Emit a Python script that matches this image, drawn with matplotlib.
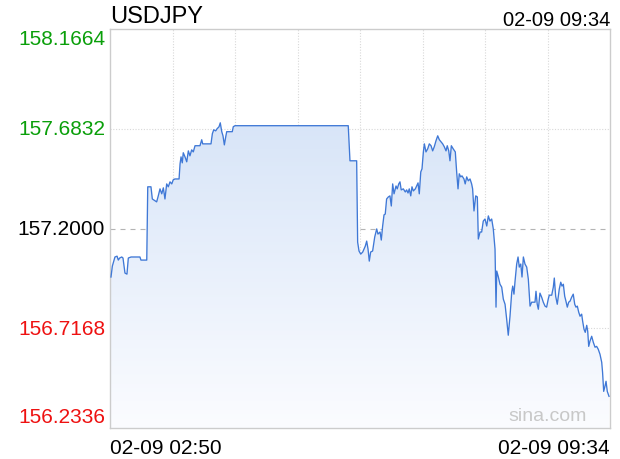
import numpy as np
import matplotlib.pyplot as plt
from matplotlib.colors import LinearSegmentedColormap
from matplotlib.transforms import blended_transform_factory

plt.rcParams["font.family"] = ["Liberation Sans", "DejaVu Sans"]

symbol = "USDJPY"
stamp = "02-09 09:34"
start_label = "02-09 02:50"
end_label = "02-09 09:34"
prev_close = 157.2000
y_ticks = [158.1664, 157.6832, 157.2000, 156.7168, 156.2336]
y_colors = ["#0a9f0a", "#0a9f0a", "#000000", "#ee1111", "#ee1111"]
span_minutes = 404  # 02:50 -> 09:34

# minutes after 02:50
minutes = [
    0.8, 1.9, 4.0, 5.7, 6.7, 7.8, 9.5, 10.5, 12.1, 13.7, 14.8, 17.0, 24.2, 25.0, 29.7,
    30.5, 33.1, 34.2, 36.4, 37.7, 39.0, 40.4, 41.8, 43.1, 44.4, 45.8, 47.1, 48.5, 49.9,
    51.1, 52.5, 55.8, 56.6, 57.4, 58.4, 59.2, 60.6, 62.0, 63.3, 64.6, 66.0, 67.3, 68.7,
    72.7, 74.1, 74.9, 81.6, 82.7, 83.8, 85.4, 86.5, 88.1, 89.1, 90.3, 91.3, 92.4, 93.5,
    94.3, 98.8, 99.6, 101.0, 192.5, 193.9, 199.3, 200.1, 201.2, 202.6, 204.2, 205.2,
    206.3, 207.4, 208.5, 209.5, 210.6, 212.2, 213.9, 215.5, 216.5, 218.2, 219.2, 220.3,
    221.4, 222.4, 223.5, 224.9, 226.2, 227.3, 228.4, 229.5, 231.1, 232.1, 233.3, 234.3,
    235.3, 237.0, 238.6, 239.7, 240.8, 241.8, 243.0, 244.0, 245.1, 246.7, 247.8, 248.9,
    249.9, 251.1, 252.1, 253.2, 254.0, 255.3, 256.7, 258.0, 259.4, 260.7, 262.0, 263.4,
    264.8, 266.1, 267.4, 268.8, 270.1, 271.5, 272.5, 273.7, 274.7, 275.8, 277.3, 279.0,
    280.1, 281.2, 282.2, 283.4, 284.4, 286.0, 287.0, 288.2, 289.5, 290.9, 292.2, 293.0,
    294.1, 295.5, 296.8, 297.6, 299.0, 300.3, 301.6, 303.0, 304.4, 305.7, 307.0, 308.4,
    309.7, 311.1, 311.9, 312.5, 313.8, 315.1, 316.5, 317.8, 319.2, 320.5, 321.8, 323.2,
    324.6, 325.4, 326.4, 327.2, 328.6, 329.7, 330.7, 331.9, 332.9, 334.0, 335.3, 336.7,
    338.0, 339.4, 340.7, 342.0, 343.4, 344.2, 345.2, 346.1, 347.4, 348.8, 350.1, 351.5,
    352.8, 354.1, 354.9, 356.9, 358.2, 359.0, 360.1, 361.4, 363.0, 364.2, 365.2, 366.3,
    367.4, 368.4, 369.5, 370.6, 371.7, 373.0, 374.3, 375.5, 376.5, 377.6, 378.7, 379.8,
    381.1, 381.9, 383.0, 384.0, 385.2, 386.0, 386.8, 387.8, 389.2, 390.5, 391.9, 393.2,
    394.5, 395.9, 397.3, 398.0, 398.9, 399.9, 400.8, 401.8, 403.2,
]
prices = [
    156.965, 157.018, 157.062, 157.066, 157.047, 157.057, 157.062, 157.057, 156.984, 156.979,
    157.057, 157.062, 157.062, 157.047, 157.047,
    157.402, 157.402, 157.343, 157.334, 157.329, 157.358, 157.392, 157.368, 157.397, 157.343,
    157.416, 157.402, 157.426, 157.416, 157.436, 157.440, 157.440, 157.513, 157.547, 157.518,
    157.567, 157.547, 157.523, 157.576, 157.552, 157.581, 157.571, 157.601, 157.601, 157.630,
    157.610, 157.610, 157.659, 157.678, 157.673, 157.683, 157.693, 157.712, 157.669, 157.649,
    157.605, 157.644, 157.669, 157.669, 157.693, 157.698, 157.698, 157.528, 157.528,
    157.134, 157.091, 157.076, 157.086, 157.100, 157.115, 157.139, 157.100, 157.042, 157.086,
    157.091, 157.159, 157.198, 157.173, 157.183, 157.144, 157.212, 157.266, 157.270, 157.343,
    157.353, 157.358, 157.309, 157.416, 157.368, 157.406, 157.392, 157.416, 157.426, 157.387,
    157.392, 157.377, 157.387, 157.372, 157.392, 157.358, 157.402, 157.382, 157.392, 157.406,
    157.421, 157.368, 157.474, 157.489, 157.571, 157.610, 157.571, 157.586, 157.610, 157.601,
    157.576, 157.596, 157.625, 157.649, 157.630, 157.620, 157.610, 157.596, 157.576, 157.601,
    157.576, 157.528, 157.601, 157.586, 157.571, 157.474, 157.392, 157.465, 157.450, 157.455,
    157.440, 157.416, 157.450, 157.431, 157.440, 157.416, 157.392, 157.285, 157.358, 157.353,
    157.149, 157.183, 157.183, 157.236, 157.246, 157.212, 157.261, 157.236, 157.246, 157.198,
    157.100, 156.819, 156.994, 156.965, 156.930, 156.916, 156.858, 156.833, 156.761, 156.683,
    156.775, 156.892, 156.921, 156.882, 156.940, 157.028, 157.062, 157.013, 157.028, 156.965,
    157.062, 157.028, 157.013, 156.955, 156.824, 156.843, 156.843, 156.843, 156.896, 156.833,
    156.809, 156.887, 156.867, 156.843, 156.824, 156.819, 156.858, 156.877, 156.877, 156.916,
    156.960, 156.872, 156.833, 156.906, 156.940, 156.921, 156.930, 156.872, 156.848, 156.819,
    156.843, 156.848, 156.867, 156.882, 156.833, 156.819, 156.824, 156.795, 156.775, 156.785,
    156.751, 156.712, 156.697, 156.731, 156.702, 156.629, 156.654, 156.678, 156.649, 156.625,
    156.629, 156.615, 156.591, 156.552, 156.503, 156.411, 156.435, 156.460, 156.411, 156.387,
]

fig = plt.figure(figsize=(6.2, 4.6), dpi=100)
ax = fig.add_axes([110 / 620, 31 / 460, 500 / 620, 399 / 460])
y_lo, y_hi = y_ticks[-1], y_ticks[0]

# grid
for gx in np.linspace(0, span_minutes, 9)[1:-1]:
    ax.axvline(gx, color="#d8d8d8", lw=0.8, ls=(0, (1, 1.5)), zorder=0)
for gy in y_ticks[1:-1]:
    if gy == prev_close:
        ax.axhline(gy, color="#b4b4b4", lw=0.8, ls=(0, (4.5, 4.5)), zorder=0)
    else:
        ax.axhline(gy, color="#d8d8d8", lw=0.8, ls=(0, (1, 1.5)), zorder=0)

# gradient fill under the line
poly = ax.fill_between(minutes, prices, y_lo, color="none", lw=0)
cmap = LinearSegmentedColormap.from_list("fill", ["#fbfcff", "#d8e5f8"])
grad = np.linspace(0, 1, 256).reshape(-1, 1)
im = ax.imshow(grad, extent=[0, span_minutes, y_lo, max(prices)], origin="lower",
               aspect="auto", cmap=cmap, zorder=1)
im.set_clip_path(poly.get_paths()[0], transform=ax.transData)
ax.set_xlim(0, span_minutes)
ax.set_ylim(y_lo, y_hi)

ax.plot(minutes, prices, color="#3f78d6", lw=0.95, zorder=3)

for s in ax.spines.values():
    s.set_color("#cccccc")
    s.set_linewidth(1.0)
ax.set_xticks([])
ax.set_yticks([])

# y labels
tr = blended_transform_factory(ax.transAxes, ax.transData)
for i, (v, c) in enumerate(zip(y_ticks, y_colors)):
    if i == 0:
        ax.text(-0.01, v, f"{v:.4f}", transform=tr, ha="right", va="top", color=c, fontsize=15)
    elif i == len(y_ticks) - 1:
        ax.text(-0.01, 0.015, f"{v:.4f}", transform=ax.transAxes, ha="right",
                va="baseline", color=c, fontsize=15)
    else:
        ax.text(-0.01, v, f"{v:.4f}", transform=tr, ha="right", va="center", color=c, fontsize=15)

ax.text(0.0, -0.025, start_label, transform=ax.transAxes, ha="left", va="top", fontsize=15)
ax.text(1.0, -0.025, end_label, transform=ax.transAxes, ha="right", va="top", fontsize=15)
ax.text(0.0, 1.005, symbol, transform=ax.transAxes, ha="left", va="bottom", fontsize=17)
ax.text(1.0, 1.0, stamp, transform=ax.transAxes, ha="right", va="bottom", fontsize=14.5)
ax.text(0.954, 0.01, "sina.com", transform=ax.transAxes, ha="right", va="bottom",
        fontsize=14, color="#c8c8c8", zorder=2)

fig.savefig("out.png", dpi=100)
